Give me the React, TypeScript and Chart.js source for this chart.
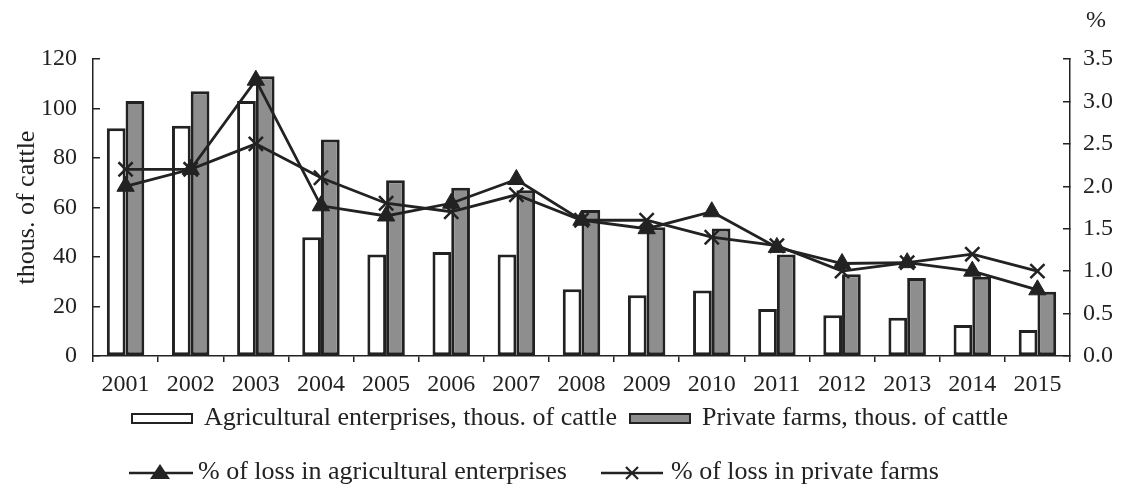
import React, { useEffect, useRef } from "react";
import { Chart, registerables } from "chart.js";

Chart.register(...registerables);

const years = ["2001","2002","2003","2004","2005","2006","2007","2008","2009","2010","2011","2012","2013","2014","2015"];
const agriCattle = [92, 93, 103, 48, 41, 42, 41, 27, 24.5, 26.5, 19, 16.5, 15.5, 12.5, 10.5];
const privateCattle = [103, 107, 113, 87.5, 71, 68, 67, 59, 52, 51.5, 41, 33, 31.5, 32, 26];
const agriLoss = [2.0, 2.2, 3.25, 1.77, 1.65, 1.8, 2.08, 1.6, 1.5, 1.7, 1.28, 1.09, 1.1, 1.0, 0.78];
const privateLoss = [2.2, 2.2, 2.5, 2.1, 1.8, 1.7, 1.9, 1.6, 1.6, 1.4, 1.3, 1.0, 1.1, 1.2, 1.0];
const leftTicksMax = 120;
const rightTicksMax = 3.5;

const FONT = "'Liberation Serif', 'Times New Roman', serif";
const INK = "#222222";
const GREY = "#8e8e8e";

export default function App() {
  const canvasRef = useRef<HTMLCanvasElement | null>(null);

  useEffect(() => {
    document.body.style.margin = "0";
    const canvas = canvasRef.current;
    if (!canvas) return;
    const chart = new Chart(canvas, {
      type: "bar",
      data: {
        labels: years,
        datasets: [
          {
            type: "line",
            label: "% of loss in agricultural enterprises",
            data: agriLoss,
            yAxisID: "y1",
            borderColor: INK,
            borderWidth: 2.8,
            pointStyle: "triangle",
            pointRadius: 10,
            pointBackgroundColor: INK,
            pointBorderColor: INK,
            pointBorderWidth: 1,
            tension: 0,
            order: 0,
          } as any,
          {
            type: "line",
            label: "% of loss in private farms",
            data: privateLoss,
            yAxisID: "y1",
            borderColor: INK,
            borderWidth: 2.8,
            pointStyle: "crossRot",
            pointRadius: 10,
            pointBorderColor: INK,
            pointBorderWidth: 2.5,
            tension: 0,
            order: 0,
          } as any,
          {
            type: "bar",
            label: "Agricultural enterprises, thous. of cattle",
            data: agriCattle,
            yAxisID: "y",
            backgroundColor: "#ffffff",
            borderColor: INK,
            borderWidth: 3,
            borderSkipped: false,
            categoryPercentage: 0.575,
            barPercentage: 1,
            order: 1,
          },
          {
            type: "bar",
            label: "Private farms, thous. of cattle",
            data: privateCattle,
            yAxisID: "y",
            backgroundColor: GREY,
            borderColor: INK,
            borderWidth: 3,
            borderSkipped: false,
            categoryPercentage: 0.575,
            barPercentage: 1,
            order: 1,
          },
        ],
      },
      options: {
        animation: false,
        responsive: false,
        maintainAspectRatio: false,
        devicePixelRatio: 1,
        layout: { padding: { top: 59, left: 0, right: 0, bottom: 0 } },
        plugins: {
          legend: { display: false },
          tooltip: { enabled: false },
        },
        scales: {
          x: {
            grid: {
              display: true,
              drawOnChartArea: false,
              drawTicks: true,
              tickLength: 6,
              color: INK,
              lineWidth: 1.5,
            },
            border: { display: true, color: INK, width: 1.5 },
            ticks: {
              color: INK,
              font: { family: FONT, size: 24 },
              padding: 8,
              maxRotation: 0,
              autoSkip: false,
            },
            afterFit: (s: any) => {
              s.height = 130;
            },
          },
          y: {
            position: "left",
            min: 0,
            max: leftTicksMax,
            grid: {
              display: true,
              drawOnChartArea: false,
              drawTicks: true,
              tickLength: -7,
              color: INK,
              lineWidth: 1.5,
            },
            border: { display: true, color: INK, width: 1.5 },
            ticks: {
              stepSize: 20,
              color: INK,
              font: { family: FONT, size: 24 },
              padding: 23,
            },
            title: {
              display: true,
              text: "thous. of cattle",
              color: INK,
              font: { family: FONT, size: 26 },
              padding: { top: 12, bottom: 0 },
            },
            afterFit: (s: any) => {
              s.width = 93;
            },
          },
          y1: {
            position: "right",
            min: 0,
            max: rightTicksMax,
            grid: {
              display: true,
              drawOnChartArea: false,
              drawTicks: true,
              tickLength: -7,
              color: INK,
              lineWidth: 1.5,
            },
            border: { display: true, color: INK, width: 1.5 },
            ticks: {
              stepSize: 0.5,
              color: INK,
              font: { family: FONT, size: 24 },
              padding: 20,
              callback: (v: any) => Number(v).toFixed(1),
            },
            afterFit: (s: any) => {
              s.width = 53;
            },
          },
        },
      },
    });
    return () => chart.destroy();
  }, []);

  const textStyle: React.CSSProperties = {
    position: "absolute",
    fontFamily: FONT,
    fontSize: 26,
    lineHeight: "30px",
    color: INK,
    whiteSpace: "nowrap",
  };

  return (
    <div style={{ position: "absolute", left: 0, top: 0, width: 1123, height: 486, background: "#fff" }}>
      <canvas ref={canvasRef} width={1123} height={486} style={{ position: "absolute", left: 0, top: 0, width: 1123, height: 486 }} />
      <div style={{ ...textStyle, left: 1086, top: 4, fontSize: 24 }}>%</div>

      <div style={{ position: "absolute", left: 131, top: 413, width: 62, height: 11, boxSizing: "border-box", border: `2.5px solid ${INK}`, background: "#fff" }} />
      <div style={{ ...textStyle, left: 204, top: 402 }}>Agricultural enterprises, thous. of cattle</div>
      <div style={{ position: "absolute", left: 629, top: 413, width: 62, height: 11, boxSizing: "border-box", border: `2.5px solid ${INK}`, background: GREY }} />
      <div style={{ ...textStyle, left: 702, top: 402 }}>Private farms, thous. of cattle</div>

      <svg style={{ position: "absolute", left: 129, top: 460 }} width={64} height={26}>
        <line x1={0} y1={13} x2={64} y2={13} stroke={INK} strokeWidth={2.5} />
        <polygon points="31,4 41,19 21,19" fill={INK} />
      </svg>
      <div style={{ ...textStyle, left: 198, top: 456 }}>% of loss in agricultural enterprises</div>
      <svg style={{ position: "absolute", left: 601, top: 460 }} width={62} height={26}>
        <line x1={0} y1={13} x2={62} y2={13} stroke={INK} strokeWidth={2.5} />
        <line x1={25} y1={7} x2={37} y2={19} stroke={INK} strokeWidth={2.2} />
        <line x1={37} y1={7} x2={25} y2={19} stroke={INK} strokeWidth={2.2} />
      </svg>
      <div style={{ ...textStyle, left: 671, top: 456 }}>% of loss in private farms</div>
    </div>
  );
}
